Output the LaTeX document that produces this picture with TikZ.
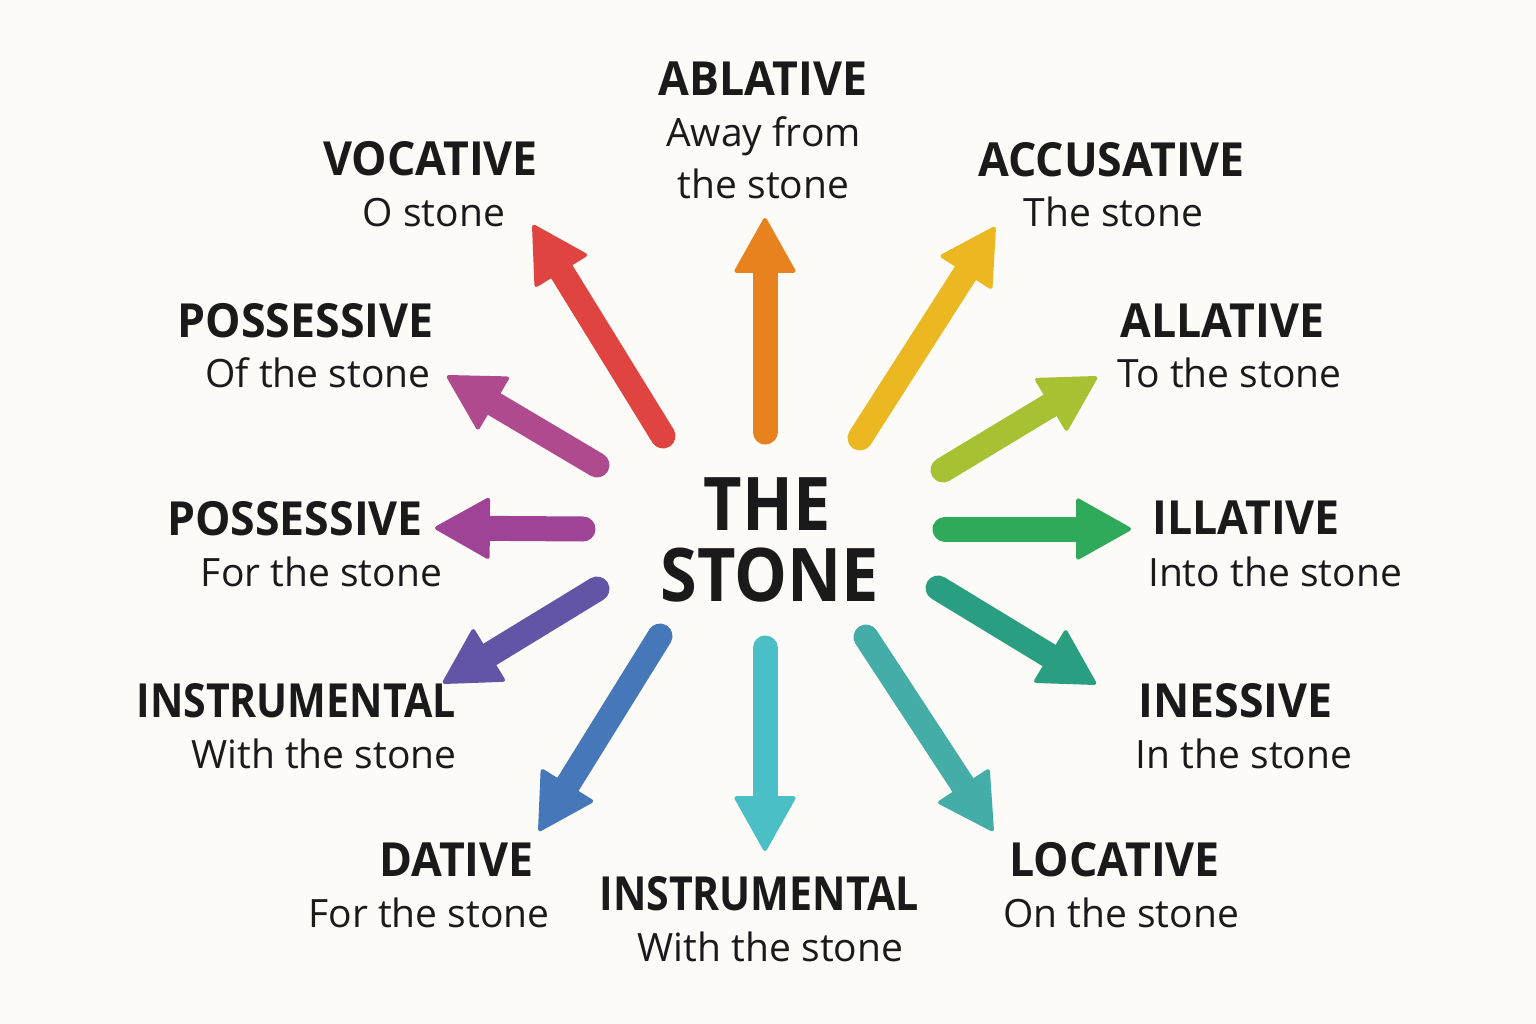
\documentclass[tikz,border=0pt]{standalone}
\usepackage{fontspec}
\setmainfont{Open Sans}
\newfontfamily\ttlfont{Open Sans}[FakeStretch=0.95]
\newfontfamily\bigfont{Open Sans}[FakeStretch=0.9]
\usetikzlibrary{arrows.meta}
\definecolor{bg}{HTML}{FCFBF8}
\definecolor{ink}{HTML}{1A1A1A}
\definecolor{cRed}{HTML}{E04441}
\definecolor{cOrange}{HTML}{E8821E}
\definecolor{cYellow}{HTML}{EBB821}
\definecolor{cLime}{HTML}{A6C232}
\definecolor{cGreen}{HTML}{2FA95A}
\definecolor{cTealG}{HTML}{2A9E80}
\definecolor{cTeal}{HTML}{45ADA8}
\definecolor{cCyan}{HTML}{4BBFC6}
\definecolor{cBlue}{HTML}{4677B8}
\definecolor{cIndigo}{HTML}{6355A6}
\definecolor{cPurple}{HTML}{9E4396}
\definecolor{cMagenta}{HTML}{B04A8E}
\tikzset{
  arr/.style={draw=#1, line width=25pt, line cap=round,
    -{Triangle[length=57pt,width=63pt,round,line width=4pt]}},
  ttl/.style={font=\ttlfont\fontsize{47}{50}\selectfont\bfseries, text=ink, inner sep=0pt, anchor=base},
  sub/.style={font=\fontsize{39}{42}\selectfont, text=ink, inner sep=0pt, anchor=base},
  big/.style={font=\bigfont\fontsize{74}{78}\selectfont\bfseries, text=ink, inner sep=0pt, anchor=base},
}
\begin{document}
\begin{tikzpicture}[x=1pt,y=-1pt]
\fill[bg] (0,0) rectangle (1536,1024);
\useasboundingbox (0,0) rectangle (1536,1024);

% centre
\node[big] (the) at (767,530) {THE};
\node[big] (stone) at (769.5,601) {STONE};

% arrow end points
\coordinate (t1) at (663,436);  \coordinate (h1) at (533,225);
\coordinate (t2) at (765,432);  \coordinate (h2) at (765,218);
\coordinate (t3) at (860,438);  \coordinate (h3) at (995,227);
\coordinate (t4) at (943,470);  \coordinate (h4) at (1097,377);
\coordinate (t5) at (945,529);  \coordinate (h5) at (1131,529);
\coordinate (t6) at (938,588);  \coordinate (h6) at (1096,684);
\coordinate (t7) at (866,637);  \coordinate (h7) at (993,831);
\coordinate (t8) at (765,648);  \coordinate (h8) at (765,851);
\coordinate (t9) at (660,636);  \coordinate (h9) at (539,831);
\coordinate (t10) at (597,589); \coordinate (h10) at (443,683);
\coordinate (t11) at (583,529); \coordinate (h11) at (435,528);
\coordinate (t12) at (597,465); \coordinate (h12) at (447,376);

\draw[arr=cRed] (t1) -- (h1);
\draw[arr=cOrange] (t2) -- (h2);
\draw[arr=cYellow] (t3) -- (h3);
\draw[arr=cLime] (t4) -- (h4);
\draw[arr=cGreen] (t5) -- (h5);
\draw[arr=cTealG] (t6) -- (h6);
\draw[arr=cTeal] (t7) -- (h7);
\draw[arr=cCyan] (t8) -- (h8);
\draw[arr=cBlue] (t9) -- (h9);
\draw[arr=cIndigo] (t10) -- (h10);
\draw[arr=cPurple] (t11) -- (h11);
\draw[arr=cMagenta] (t12) -- (h12);

% labels
\node[ttl] (abl) at (763,96) {ABLATIVE};
\node[sub] (abl1) at (763.5,147) {Away from};
\node[sub] (abl2) at (763.5,199) {the stone};

\node[ttl] (voc) at (430.5,176) {VOCATIVE};
\node[sub] (voc1) at (434,227) {O stone};

\node[ttl] (acc) at (1111.5,177) {ACCUSATIVE};
\node[sub] (acc1) at (1113.5,227) {The stone};

\node[ttl] (posa) at (305.5,337) {POSSESSIVE};
\node[sub] (posa1) at (318,387) {Of the stone};

\node[ttl] (all) at (1222.5,337) {ALLATIVE};
\node[sub] (all1) at (1229.5,387) {To the stone};

\node[ttl] (posb) at (295,535) {POSSESSIVE};
\node[sub] (posb1) at (321.5,586) {For the stone};

\node[ttl] (ill) at (1246,534) {ILLATIVE};
\node[sub] (ill1) at (1275,586) {Into the stone};

\node[ttl] (insa) at (296,717) {\scalebox{0.92}[1]{INSTRUMENTAL}};
\node[sub] (insa1) at (324,768) {With the stone};

\node[ttl] (ine) at (1235.5,717) {INESSIVE};
\node[sub] (ine1) at (1244,768) {In the stone};

\node[ttl] (dat) at (456.5,876) {DATIVE};
\node[sub] (dat1) at (429,927) {For the stone};

\node[ttl] (insb) at (759,910) {\scalebox{0.92}[1]{INSTRUMENTAL}};
\node[sub] (insb1) at (770.5,961) {With the stone};

\node[ttl] (loc) at (1114.5,876) {LOCATIVE};
\node[sub] (loc1) at (1121,927) {On the stone};
\end{tikzpicture}
\end{document}
